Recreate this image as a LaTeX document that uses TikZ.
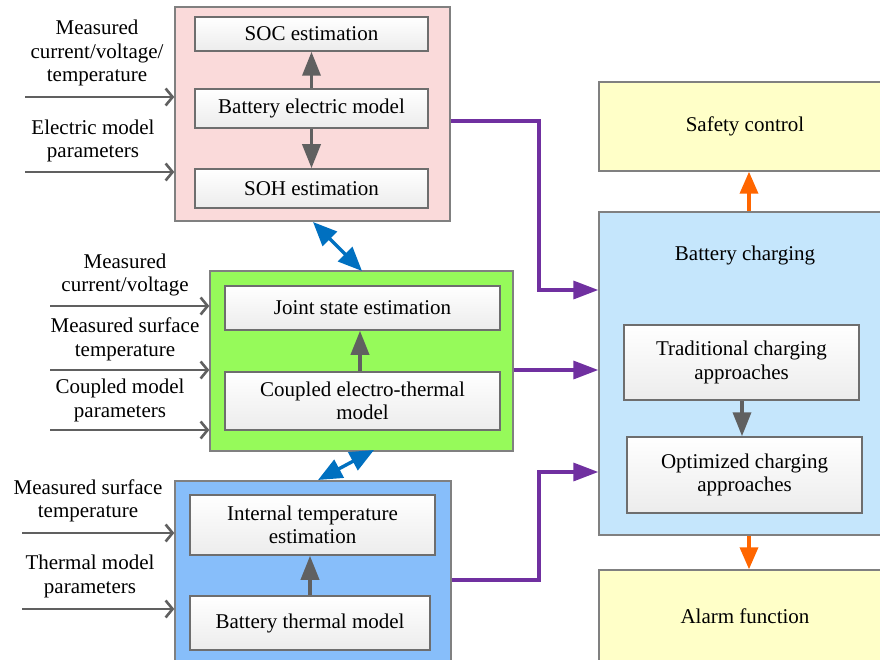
\documentclass[tikz,border=0pt]{standalone}
\usepackage{fontspec}
\setmainfont{Liberation Serif}
\usetikzlibrary{arrows.meta,calc}
\definecolor{pinkfill}{RGB}{250,218,218}
\definecolor{greenfill}{RGB}{150,250,90}
\definecolor{bluefill}{RGB}{135,190,250}
\definecolor{chargefill}{RGB}{197,230,252}
\definecolor{yellowfill}{RGB}{255,255,200}
\definecolor{boxborder}{RGB}{128,128,128}
\definecolor{innerborder}{RGB}{110,110,110}
\definecolor{innerbot}{RGB}{236,236,236}
\definecolor{arrgray}{RGB}{96,96,96}
\definecolor{purplec}{RGB}{112,48,160}
\definecolor{bluec}{RGB}{0,112,192}
\definecolor{orangec}{RGB}{255,102,0}
\newcommand\dfont{\fontsize{21}{23.5}\selectfont}
\tikzset{
  outerbox/.style={draw=boxborder, line width=1.4pt, inner sep=0pt},
  innerbox/.style={draw=innerborder, line width=1.5pt, top color=white, bottom color=innerbot, align=center, font=\dfont, inner sep=0pt},
  lbl/.style={align=center, font=\dfont, inner sep=0pt},
  inarrow/.style={draw=arrgray, line width=2.6pt, -{Straight Barb[length=7pt,width=17pt]}},
  grayarrow/.style={draw=arrgray, line width=3.6pt, -{Triangle[length=24pt,width=18pt]}},
  purplearrow/.style={draw=purplec, line width=3.4pt, -{Triangle[length=25pt,width=18pt]}},
  orangearrow/.style={draw=orangec, line width=3.6pt, -{Triangle[length=22pt,width=18pt]}},
  bluearrow/.style={draw=bluec, line width=3.4pt, {Triangle[length=24pt,width=20pt]}-{Triangle[length=24pt,width=20pt]}},
}
\begin{document}
\begin{tikzpicture}[x=1pt,y=-1pt]
\useasboundingbox (0,0) rectangle (880,660);
\clip (0,0) rectangle (880,660);
\fill[white] (0,0) rectangle (880,660);

% ---------- pink block ----------
\node[outerbox, fill=pinkfill, minimum width=275pt, minimum height=214pt] (pink) at (312.5,114) {};
\node[innerbox, minimum width=233pt, minimum height=34pt] (soc) at (311.5,34) {SOC estimation};
\node[innerbox, minimum width=233pt, minimum height=39pt] (bem) at (311.5,108.5) {Battery electric model};
\node[innerbox, minimum width=233pt, minimum height=39pt] (soh) at (311.5,188.5) {SOH estimation};
\draw[grayarrow] (bem.north) -- (soc.south);
\draw[grayarrow] (bem.south) -- (soh.north);

\node[lbl] (l1) at (97,53) {Measured\\current/voltage/\\temperature};
\node[lbl] (l2) at (93,141) {Electric model\\parameters};
\coordinate (s1) at (25,97);
\coordinate (s2) at (25,172);
\draw[inarrow] (s1) -- (s1 -| pink.west);
\draw[inarrow] (s2) -- (s2 -| pink.west);

% ---------- green block ----------
\node[outerbox, fill=greenfill, minimum width=303pt, minimum height=180pt] (green) at (361.5,361) {};
\node[innerbox, minimum width=275pt, minimum height=44pt] (joint) at (362.5,308) {Joint state estimation};
\node[innerbox, minimum width=275pt, minimum height=58pt] (cet) at (362.5,401) {Coupled electro-thermal\\model};
\coordinate (gx) at (360,0);
\draw[grayarrow] (cet.north -| gx) -- (joint.south -| gx);

\node[lbl] (l3) at (125,275) {Measured\\current/voltage};
\node[lbl] (l4) at (125,339.5) {Measured surface\\temperature};
\node[lbl] (l5) at (120,400.5) {Coupled model\\parameters};
\coordinate (s3) at (50,306);
\coordinate (s4) at (50,370);
\coordinate (s5) at (50,430);
\draw[inarrow] (s3) -- (s3 -| green.west);
\draw[inarrow] (s4) -- (s4 -| green.west);
\draw[inarrow] (s5) -- (s5 -| green.west);

% ---------- blue block ----------
\node[outerbox, fill=bluefill, minimum width=276pt, minimum height=180pt] (blue) at (313,571) {};
\node[innerbox, minimum width=245pt, minimum height=60pt] (ite) at (312.5,525) {Internal temperature\\estimation};
\node[innerbox, minimum width=240pt, minimum height=54pt] (btm) at (310,623) {Battery thermal model};
\coordinate (bx) at (310,0);
\draw[grayarrow] (btm.north -| bx) -- (ite.south -| bx);

\node[lbl] (l6) at (88,501) {Measured surface\\temperature};
\node[lbl] (l7) at (90,576.5) {Thermal model\\parameters};
\coordinate (s6) at (22,533);
\coordinate (s7) at (22,609);
\draw[inarrow] (s6) -- (s6 -| blue.west);
\draw[inarrow] (s7) -- (s7 -| blue.west);

% ---------- blue double arrows ----------
\coordinate (b1a) at (313,222);
\coordinate (b1b) at (362,271);
\coordinate (b2a) at (374,450);
\coordinate (b2b) at (318,480);
\draw[bluearrow] (b1a) -- (b1b);
\draw[bluearrow] (b2a) -- (b2b);

% ---------- right side ----------
\node[outerbox, fill=yellowfill, minimum width=292pt, minimum height=89pt, font=\dfont] (safety) at (745,126.5) {Safety control};
\node[outerbox, fill=chargefill, minimum width=292pt, minimum height=323pt] (bc) at (745,373.5) {};
\node[lbl] (bclbl) at (745,255) {Battery charging};
\node[innerbox, minimum width=235pt, minimum height=75pt] (trad) at (741.5,362.5) {Traditional charging\\approaches};
\node[innerbox, minimum width=235pt, minimum height=76pt] (opt) at (744.5,475) {Optimized charging\\approaches};
\coordinate (ga) at (742,0);
\draw[grayarrow] (trad.south -| ga) -- (opt.north -| ga);
\node[outerbox, fill=yellowfill, minimum width=292pt, minimum height=92pt, font=\dfont] (alarm) at (745,616) {Alarm function};

\coordinate (oa) at (749,0);
\draw[orangearrow] (bc.north -| oa) -- (safety.south -| oa);
\draw[orangearrow] (bc.south -| oa) -- (alarm.north -| oa);

% ---------- purple connectors ----------
\coordinate (p0) at ($(pink.east)+(0,7)$);
\coordinate (p1) at (539,290);
\coordinate (p2) at ($(green.east)+(0,9)$);
\coordinate (p3) at (539,472);
\coordinate (p4) at ($(blue.east)+(0,9)$);
\draw[purplearrow] (p0) -| (p1) -- (p1 -| bc.west);
\draw[purplearrow] (p2) -- (p2 -| bc.west);
\draw[purplearrow] (p4) -| (p3) -- (p3 -| bc.west);
\end{tikzpicture}
\end{document}
